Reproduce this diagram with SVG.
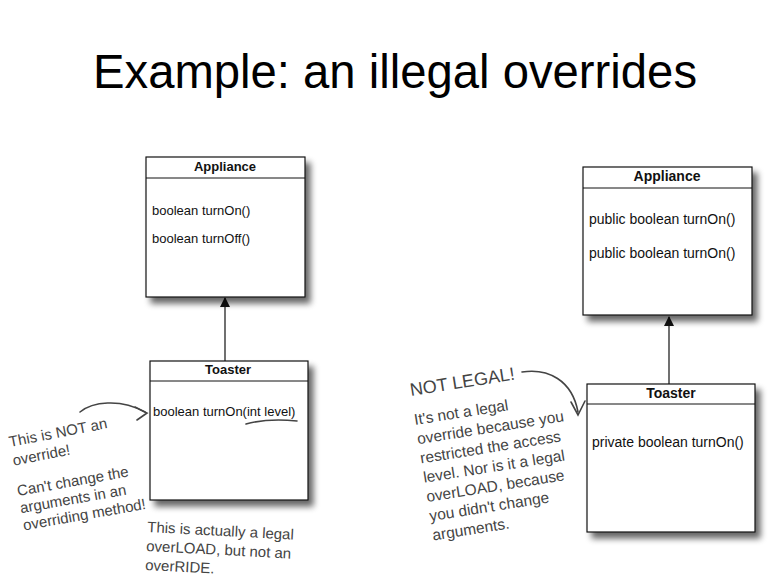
<svg xmlns="http://www.w3.org/2000/svg" width="783" height="582" viewBox="0 0 783 582">
<style>
.box{fill:#fff;stroke:#111;stroke-width:1.2}
.hdr{stroke:#111;stroke-width:1}
.ttl{font-family:"Liberation Sans",Arial,sans-serif;font-weight:bold;fill:#111;text-anchor:middle}
.mth{font-family:"Liberation Sans",Arial,sans-serif;fill:#111}
.hand{font-family:"Liberation Sans",Arial,sans-serif;fill:#444}
.conn{stroke:#111;stroke-width:1.2;fill:none}
.hline{stroke:#444;stroke-width:1.6;fill:none;stroke-linecap:round}
</style>
<defs>
<filter id="sh" x="-10%" y="-10%" width="130%" height="130%">
<feGaussianBlur in="SourceAlpha" stdDeviation="3"/>
<feOffset dx="5" dy="6" result="b"/>
<feComponentTransfer><feFuncA type="linear" slope="0.6"/></feComponentTransfer>
<feMerge><feMergeNode/><feMergeNode in="SourceGraphic"/></feMerge>
</filter>
<marker id="tri" viewBox="0 0 10 10" refX="9" refY="5" markerWidth="10" markerHeight="10" markerUnits="userSpaceOnUse" orient="auto">
<path d="M0,0 L10,5 L0,10 Z" fill="#111"/>
</marker>
</defs>
<rect width="783" height="582" fill="#fff"/>
<text x="395" y="88" font-family="'Liberation Sans',Arial,sans-serif" font-size="48" fill="#000" text-anchor="middle" textLength="604" lengthAdjust="spacingAndGlyphs">Example: an illegal overrides</text>

<g id="connectors">
<line class="conn" x1="225" y1="361" x2="225" y2="298" marker-end="url(#tri)"/>
<line class="conn" x1="669" y1="384" x2="669" y2="317" marker-end="url(#tri)"/>
<path class="hline" d="M80,412 C92,402 120,398 145,412"/>
<path d="M135,407 L147,413 L137,420" class="hline"/>
<path class="hline" d="M522,372 C548,368 572,380 578,412"/>
<path d="M571,402 L578,415 L585,401" class="hline"/>
</g>

<g id="appliance-left">
<rect class="box" x="146" y="157" width="159" height="140" filter="url(#sh)"/>
<line class="hdr" x1="146" y1="178" x2="305" y2="178"/>
<text class="ttl" x="225" y="171" font-size="13">Appliance</text>
<text class="mth" x="152" y="215" font-size="13">boolean turnOn()</text>
<text class="mth" x="152" y="243" font-size="13">boolean turnOff()</text>
</g>

<g id="toaster-left">
<rect class="box" x="150" y="361" width="158" height="139" filter="url(#sh)"/>
<line class="hdr" x1="150" y1="381" x2="308" y2="381"/>
<text class="ttl" x="228" y="374" font-size="13">Toaster</text>
<text class="mth" x="153" y="416" font-size="13">boolean turnOn(int level)</text>
<path class="hline" d="M246,424 Q268,418 297,421"/>
</g>

<g id="appliance-right">
<rect class="box" x="583" y="167" width="169" height="148" filter="url(#sh)"/>
<line class="hdr" x1="583" y1="188" x2="752" y2="188"/>
<text class="ttl" x="667" y="181" font-size="14">Appliance</text>
<text class="mth" x="589" y="224" font-size="14">public boolean turnOn()</text>
<text class="mth" x="589" y="258" font-size="14">public boolean turnOn()</text>
</g>

<g id="toaster-right">
<rect class="box" x="587" y="384" width="168" height="148" filter="url(#sh)"/>
<line class="hdr" x1="587" y1="404" x2="755" y2="404"/>
<text class="ttl" x="671" y="398" font-size="14">Toaster</text>
<text class="mth" x="592" y="447" font-size="14">private boolean turnOn()</text>
</g>

<g id="note-not-override" transform="translate(10,447) rotate(-11)">
<text class="hand" font-size="15" x="0" y="0">This is NOT an</text>
<text class="hand" font-size="15" x="0" y="19">override!</text>
</g>
<g id="note-cant-change" transform="translate(18,496) rotate(-10)">
<text class="hand" font-size="15" x="0" y="0">Can't change the</text>
<text class="hand" font-size="15" x="0" y="17.5">arguments in an</text>
<text class="hand" font-size="15" x="0" y="35">overriding method!</text>
</g>
<g id="note-overload" transform="translate(147,532) rotate(3)">
<text class="hand" font-size="15" x="0" y="0">This is actually a legal</text>
<text class="hand" font-size="15" x="0" y="19">overLOAD, but not an</text>
<text class="hand" font-size="15" x="0" y="38">overRIDE.</text>
</g>
<g id="note-not-legal" transform="translate(411,396) rotate(-9)">
<text class="hand" font-size="18" x="0" y="0">NOT LEGAL!</text>
</g>
<g id="note-explain" transform="translate(415,425) rotate(-9)">
<text class="hand" font-size="15.5" x="0" y="0">It's not a legal</text>
<text class="hand" font-size="15.5" x="0" y="19.5">override because you</text>
<text class="hand" font-size="15.5" x="0" y="39">restricted the access</text>
<text class="hand" font-size="15.5" x="0" y="58.5">level. Nor is it a  legal</text>
<text class="hand" font-size="15.5" x="0" y="78">overLOAD, because</text>
<text class="hand" font-size="15.5" x="0" y="97.5">you didn't change</text>
<text class="hand" font-size="15.5" x="0" y="117">arguments.</text>
</g>
</svg>
